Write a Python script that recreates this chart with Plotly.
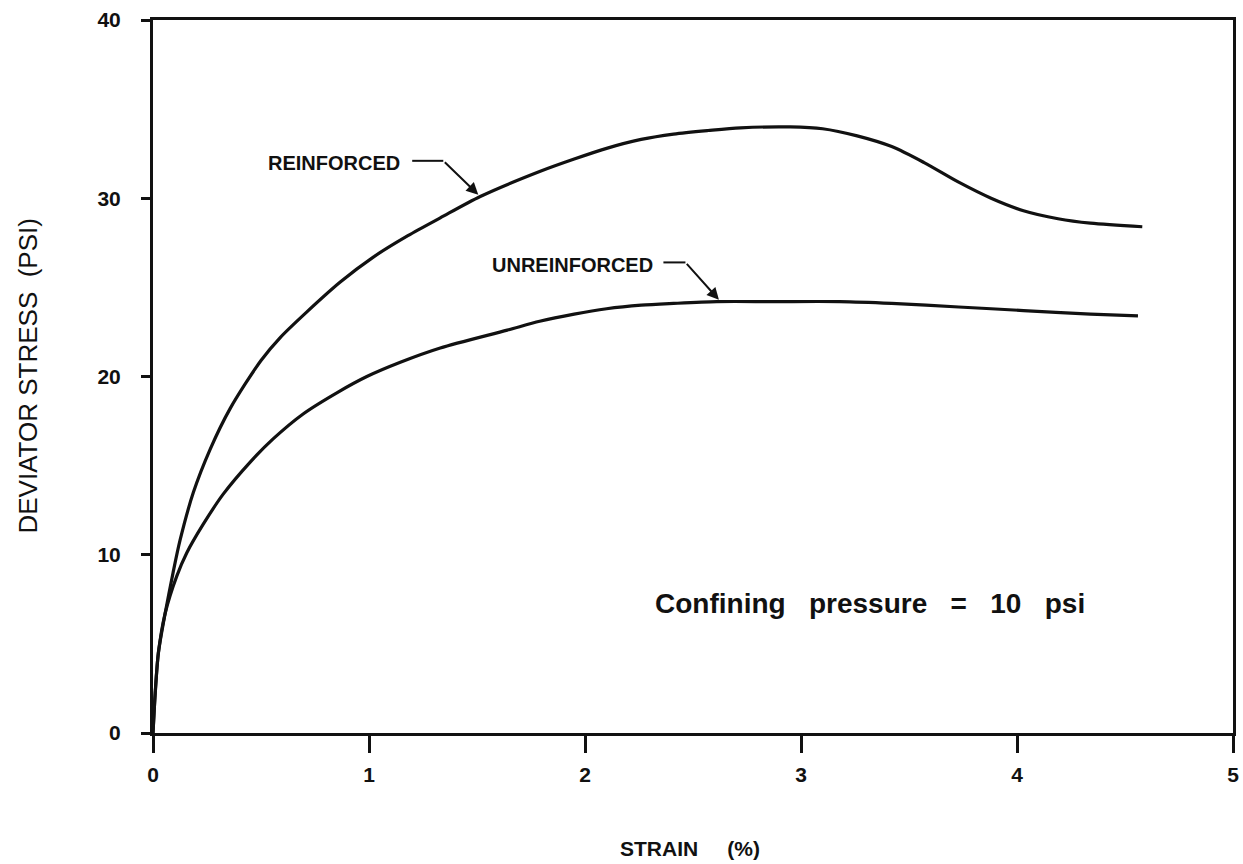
import plotly.graph_objects as go

# Reinforced specimen: strain (%) vs deviator stress (psi)
reinf_strain = [0, 0.01, 0.025, 0.056, 0.093, 0.125, 0.187, 0.264, 0.357, 0.50, 0.59, 0.71,
                0.867, 1.02, 1.18, 1.33, 1.515, 1.79, 1.95, 2.10, 2.26, 2.41, 2.57, 2.72,
                2.95, 3.10, 3.26, 3.42, 3.57, 3.73, 3.88, 4.03, 4.19, 4.34, 4.58]
reinf_stress = [0, 2.2, 4.5, 6.7, 9.0, 10.8, 13.5, 15.9, 18.2, 20.9, 22.2, 23.6,
                25.3, 26.7, 27.9, 28.9, 30.1, 31.5, 32.2, 32.8, 33.3, 33.6, 33.8, 33.95,
                34.0, 33.9, 33.5, 32.9, 32.0, 30.9, 30.0, 29.3, 28.85, 28.6, 28.4]

# Unreinforced specimen
unreinf_strain = [0, 0.01, 0.025, 0.056, 0.11, 0.156, 0.232, 0.325, 0.45, 0.556, 0.695, 0.853,
                  0.99, 1.145, 1.33, 1.64, 1.79, 1.95, 2.10, 2.26, 2.41, 2.61, 2.87, 3.18,
                  3.42, 3.73, 4.03, 4.34, 4.56]
unreinf_stress = [0, 2.2, 4.5, 6.7, 8.8, 10.1, 11.7, 13.4, 15.2, 16.5, 17.9, 19.1,
                  20.0, 20.8, 21.6, 22.6, 23.1, 23.5, 23.8, 24.0, 24.1, 24.2, 24.2, 24.2,
                  24.1, 23.9, 23.7, 23.5, 23.4]

x_ticks = [0, 1, 2, 3, 4, 5]
y_ticks = [0, 10, 20, 30, 40]

FONT = "Liberation Sans"
INK = "#111111"

fig = go.Figure()
fig.add_trace(go.Scatter(x=reinf_strain, y=reinf_stress, mode="lines",
                         line=dict(color=INK, width=3.2, shape="spline", smoothing=0.8),
                         name="REINFORCED"))
fig.add_trace(go.Scatter(x=unreinf_strain, y=unreinf_stress, mode="lines",
                         line=dict(color=INK, width=3.2, shape="spline", smoothing=0.8),
                         name="UNREINFORCED"))

axis_common = dict(showgrid=False, zeroline=False, showline=True, linecolor=INK, linewidth=3,
                   mirror=True, ticks="outside", tickcolor=INK, tickwidth=2.5, automargin=False,
                   tickfont=dict(family=FONT, size=21, color=INK, weight="bold"))

fig.update_xaxes(range=[0, 5], tickvals=x_ticks, ticktext=[str(v) for v in x_ticks],
                 ticklen=17, ticklabelstandoff=4, **axis_common)
fig.update_yaxes(range=[0, 40], tickvals=y_ticks, ticktext=[str(v) for v in y_ticks],
                 ticklen=9, ticklabelstandoff=16, **axis_common)

label_font = dict(family=FONT, size=20, color=INK, weight="bold")
NB = "\u00a0"
annotations = [
    dict(x=1.154, y=32.0, xref="x", yref="y", text="REINFORCED", showarrow=False,
         xanchor="right", yanchor="middle", font=label_font),
    dict(x=2.326, y=26.25, xref="x", yref="y", text="UNREINFORCED", showarrow=False,
         xanchor="right", yanchor="middle", font=label_font),
    dict(x=1.506, y=30.2, ax=1.344, ay=32.1, xref="x", yref="y", axref="x", ayref="y",
         text="", showarrow=True, arrowhead=2, arrowsize=1.2, arrowwidth=2, arrowcolor=INK),
    dict(x=2.62, y=24.3, ax=2.465, ay=26.4, xref="x", yref="y", axref="x", ayref="y",
         text="", showarrow=True, arrowhead=2, arrowsize=1.2, arrowwidth=2, arrowcolor=INK),
    dict(x=3.32, y=7.24, xref="x", yref="y",
         text=f"Confining{NB*3}pressure{NB*3}={NB*3}10{NB*3}psi",
         showarrow=False, xanchor="center", yanchor="middle",
         font=dict(family=FONT, size=28, color=INK, weight="bold")),
    dict(x=0.497, y=0, xref="paper", yref="paper", yshift=-115,
         text=f"STRAIN{NB*5}(%)", showarrow=False, xanchor="center", yanchor="middle",
         font=dict(family=FONT, size=21, color=INK, weight="bold")),
    dict(x=0, y=0.5, xref="paper", yref="paper", xshift=-126,
         text=f"DEVIATOR STRESS{NB*2}(PSI)", showarrow=False, textangle=-90,
         xanchor="center", yanchor="middle",
         font=dict(family=FONT, size=26, color=INK)),
]

shapes = [
    dict(type="line", xref="x", yref="y", x0=1.20, y0=32.1, x1=1.344, y1=32.1,
         line=dict(color=INK, width=2)),
    dict(type="line", xref="x", yref="y", x0=2.363, y0=26.4, x1=2.465, y1=26.4,
         line=dict(color=INK, width=2)),
]

fig.update_layout(width=1243, height=864, margin=dict(l=153, r=10, t=20, b=131, autoexpand=False),
                  paper_bgcolor="white", plot_bgcolor="white", showlegend=False,
                  annotations=annotations, shapes=shapes)

# remove the browser's default 8px body margin so the figure fills the window exactly
fig.write_html("out.html", config={"displayModeBar": False},
               post_script="document.body.style.margin='0';document.body.style.overflow='hidden';")
